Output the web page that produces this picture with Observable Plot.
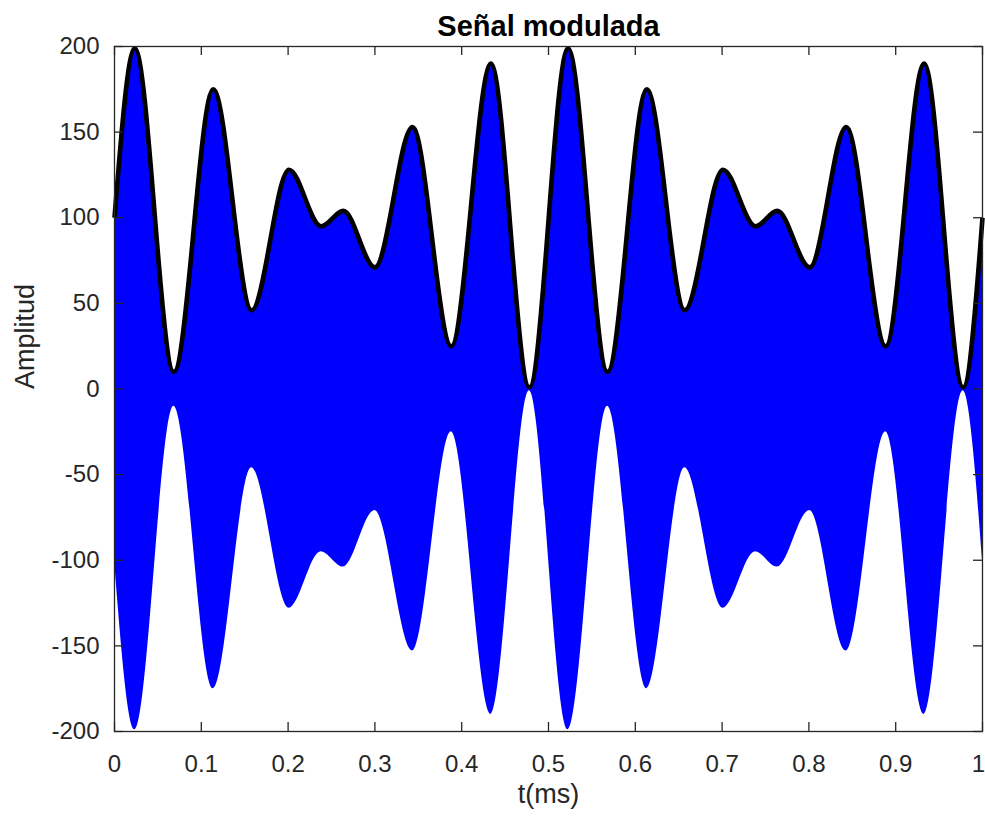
<!DOCTYPE html>
<html>
<head>
<meta charset="utf-8">
<script src="https://cdn.jsdelivr.net/npm/d3@7"></script>
<script src="https://cdn.jsdelivr.net/npm/@observablehq/plot@0.6"></script>
<style>
  html, body { margin: 0; padding: 0; background: #fff; }
  #chart { width: 985px; height: 816px; }
</style>
</head>
<body>
<div id="chart"></div>
<script>
// Envelope of the modulated signal (time in ms, amplitude), read at its extrema
const timeMs = [0, 0.0234, 0.0684, 0.1138, 0.158, 0.201, 0.238, 0.2637, 0.300, 0.3433, 0.388, 0.4337, 0.478,
                0.5225, 0.568, 0.6133, 0.657, 0.701, 0.7385, 0.7636, 0.801, 0.843, 0.8885, 0.9327, 0.9777, 1.0];
const envelope = [100, 199, 10, 175, 46, 128, 95, 104, 71, 153, 25, 190, 1,
                  199, 10, 175, 46, 128, 95, 104, 71, 153, 25, 190, 1, 100];
const xTicks = [0, 0.1, 0.2, 0.3, 0.4, 0.5, 0.6, 0.7, 0.8, 0.9, 1];
const yTicks = [-200, -150, -100, -50, 0, 50, 100, 150, 200];
const titleText = "Señal modulada";
const xLabel = "t(ms)";
const yLabel = "Amplitud";

const data = timeMs.map((t, i) => ({t, env: envelope[i]}));
const axisColor = "#262626";
const frameW = 985 - 114 - 3;
const frameH = 816 - 46 - 85;
const tickLen = 9;

const chart = Plot.plot({
  width: 985,
  height: 816,
  marginLeft: 114,
  marginRight: 3,
  marginTop: 46,
  marginBottom: 85,
  style: {fontFamily: "'Liberation Sans', Arial, Helvetica, sans-serif", color: axisColor, background: "#fff"},
  x: {domain: [0, 1]},
  y: {domain: [-200, 200]},
  marks: [
    Plot.areaY(data, {x: "t", y1: d => -d.env, y2: "env", fill: "#0000ff", curve: "monotone-x"}),
    Plot.line(data, {x: "t", y: "env", stroke: "#000", strokeWidth: 4.6, curve: "monotone-x", strokeLinecap: "butt"}),
    Plot.frame({stroke: axisColor, strokeWidth: 1.3}),
    Plot.tickX(xTicks, {x: d => d, insetTop: frameH - tickLen, stroke: axisColor, strokeWidth: 1.3}),
    Plot.tickX(xTicks, {x: d => d, insetBottom: frameH - tickLen, stroke: axisColor, strokeWidth: 1.3}),
    Plot.tickY(yTicks, {y: d => d, insetRight: frameW - tickLen, stroke: axisColor, strokeWidth: 1.3}),
    Plot.tickY(yTicks, {y: d => d, insetLeft: frameW - tickLen, stroke: axisColor, strokeWidth: 1.3}),
    Plot.axisX(xTicks.slice(0, -1), {tickSize: 0, tickPadding: 23, fontSize: 24, tickFormat: d => String(d), label: null}),
    Plot.axisX(xTicks.slice(-1), {tickSize: 0, tickPadding: 23, fontSize: 24, dx: -4, tickFormat: d => String(d), label: null}),
    Plot.axisY(yTicks, {tickSize: 0, tickPadding: 15, fontSize: 24, tickFormat: d => String(d), label: null}),
    Plot.text([xLabel], {frameAnchor: "bottom", dy: 71, fontSize: 27, fill: axisColor}),
    Plot.text([yLabel], {frameAnchor: "left", dx: -89, rotate: -90, fontSize: 27, fill: axisColor}),
    Plot.text([titleText], {frameAnchor: "top", dy: -31, fontSize: 29, fontWeight: "bold", fill: "#000"})
  ]
});
document.getElementById("chart").appendChild(chart);
</script>
</body>
</html>
